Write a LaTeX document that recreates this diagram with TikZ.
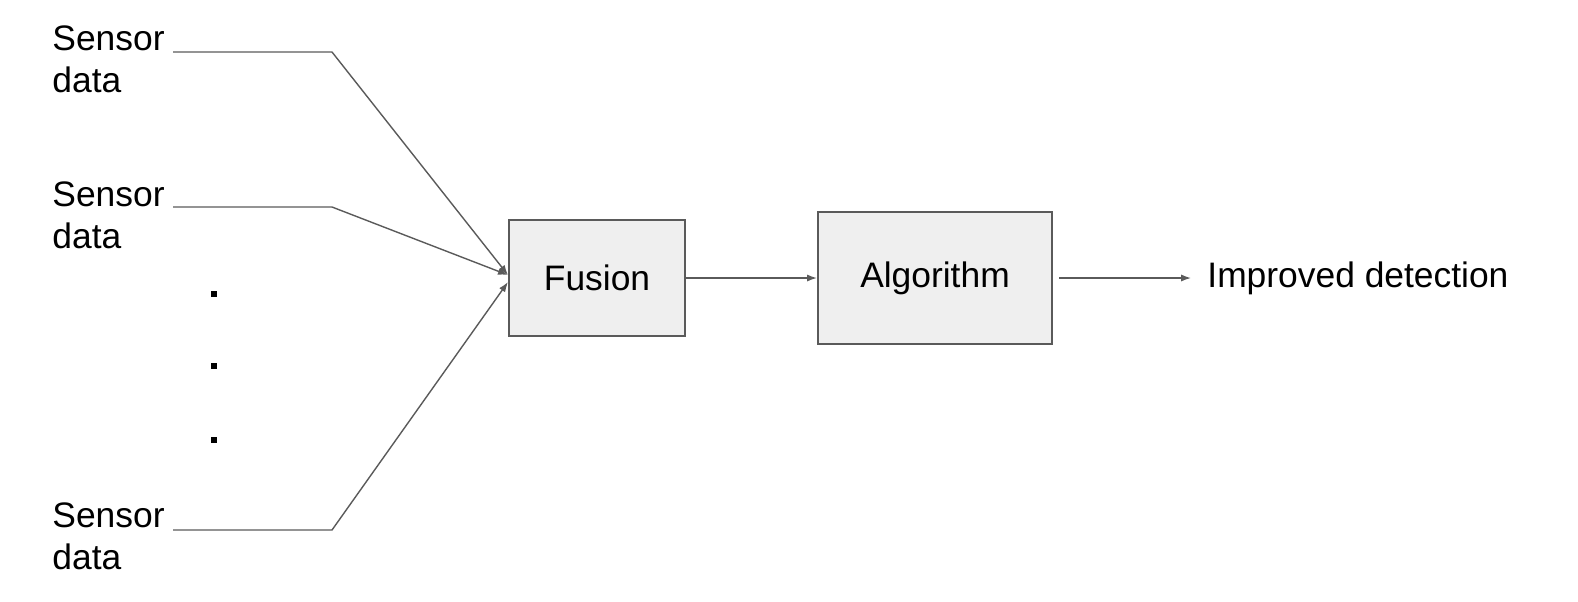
\documentclass[tikz,border=0pt]{standalone}
\usepackage{fontspec}
\setmainfont{Liberation Sans}
\usetikzlibrary{arrows.meta,positioning}
\definecolor{boksgraa}{HTML}{EFEFEF}
\definecolor{linjegraa}{HTML}{5A5A5A}
\tikzset{
  %Define standard arrow tip
  >={Latex[length=5pt,width=3.6pt]},
  %Define style for boxes
  boks/.style={
    rectangle,
    draw=linjegraa, line width=1pt,
    fill=boksgraa,
    font=\fontsize{17.7}{21}\selectfont},
  %Define style for plain text
  tekst/.style={
    inner sep=0pt,
    align=left,
    font=\fontsize{17.7}{21}\selectfont},
  % Define arrow style
  pil/.style={
    ->,
    draw=linjegraa,
    line width=0.7pt},
  prikk/.style={
    rectangle, fill=black,
    inner sep=0pt, minimum size=2.6pt}
}

\begin{document}
\begin{tikzpicture}[x=0.5pt,y=-0.5pt,node distance=65.5pt]
    \useasboundingbox (0,0) rectangle (1578,601);
    \node[boks, minimum width=88pt, minimum height=58pt] (fusion) at (597,278) {Fusion};
    \node[boks, minimum width=117pt, minimum height=66pt, right=of fusion] (algorithm) {Algorithm};
    \node[tekst, right=77pt of algorithm] (resultat) {Improved detection};
    \node[tekst, anchor=base west] (sensor1) at (52,92) {Sensor\\data};
    \node[tekst, anchor=base west] (sensor2) at (52,248) {Sensor\\data};
    \node[tekst, anchor=base west] (sensor3) at (52,569) {Sensor\\data};
    \coordinate (h1) at (173,52);
    \coordinate (k1) at (332,52);
    \coordinate (h2) at (173,207);
    \coordinate (k2) at (332,207);
    \coordinate (h3) at (173,530);
    \coordinate (k3) at (332,530);
    \node[prikk] (p1) at (214,294) {};
    \node[prikk] (p2) at (214,366) {};
    \node[prikk] (p3) at (214,440) {};
    \draw[pil] (h1) -- (k1) -- ([yshift=1.5pt]fusion.west);
    \draw[pil] (h2) -- (k2) -- ([yshift=1.5pt]fusion.west);
    \draw[pil] (h3) -- (k3) -- ([yshift=-2pt]fusion.west);
    \draw[pil] (fusion) -- (algorithm);
    \draw[pil, shorten <=3pt, shorten >=8pt] (algorithm) -- (resultat);
  \end{tikzpicture}
\end{document}
